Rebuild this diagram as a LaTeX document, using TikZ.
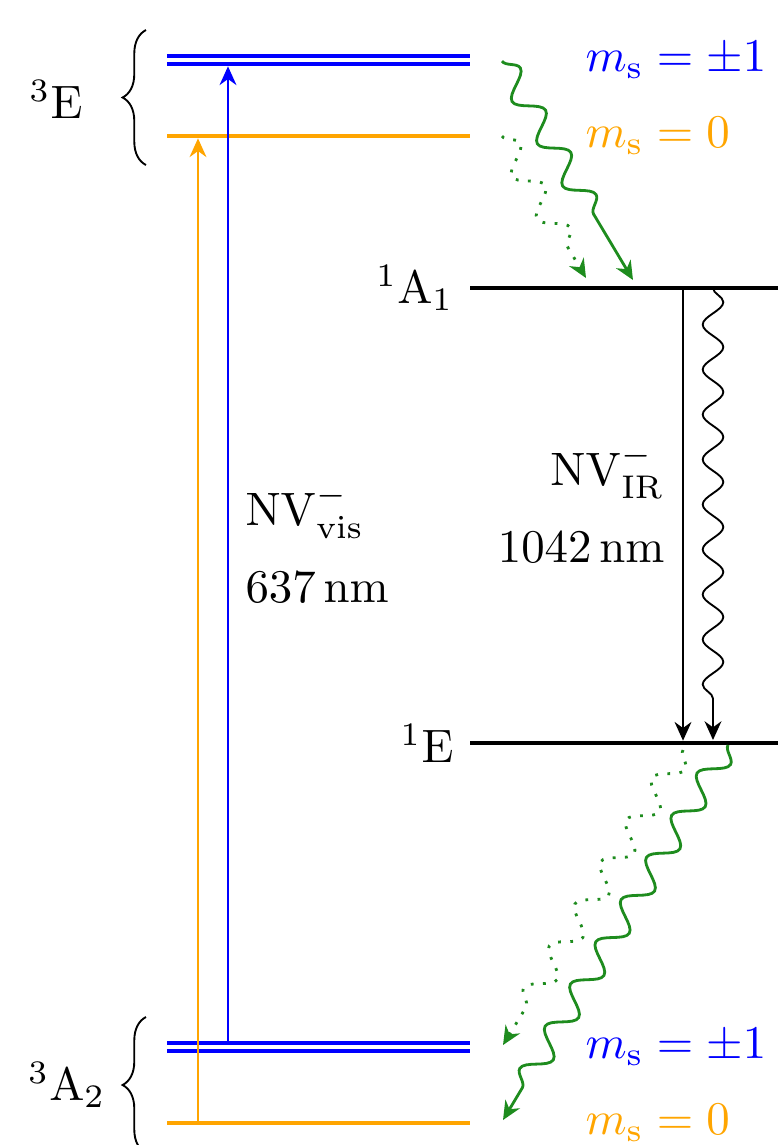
\documentclass[tikz,border=0pt]{standalone}
\usepackage{amsmath}
\usepackage{tikz}
\usetikzlibrary{arrows.meta, decorations.pathmorphing, decorations.pathreplacing}
\definecolor{msblue}{RGB}{0, 0, 255}
\definecolor{msorange}{RGB}{255, 165, 0}
\definecolor{decaygreen}{RGB}{30, 140, 30}

\tikzset{
  statelvl/.style={line width=1pt},
  dbllvl/.style={statelvl, double, double distance=0.7pt},
  optarrow/.style={-{Stealth[length=4pt, width=3.6pt]}},
  wavyarrow/.style={optarrow, decorate, decoration={snake, amplitude=2.6pt, segment length=10.5pt, post length=2.5mm}},
}

\begin{document}
\begin{tikzpicture}[scale=0.75]
\useasboundingbox (0,0) rectangle (7.78,-11.45);
\coordinate (Epm-l) at (1.67,-0.60);
\coordinate (Epm-r) at (4.70,-0.60);
\coordinate (E0-l) at (1.67,-1.36);
\coordinate (E0-r) at (4.70,-1.36);
\coordinate (A1-l) at (4.70,-2.88);
\coordinate (A1-r) at (7.78,-2.88);
\coordinate (sE-l) at (4.70,-7.43);
\coordinate (sE-r) at (7.78,-7.43);
\coordinate (Apm-l) at (1.67,-10.47);
\coordinate (Apm-r) at (4.70,-10.47);
\coordinate (A0-l) at (1.67,-11.23);
\coordinate (A0-r) at (4.70,-11.23);
\draw[dbllvl, msblue] (Epm-l) -- (Epm-r);
\draw[statelvl, msorange] (E0-l) -- (E0-r);
\draw[statelvl] (A1-l) -- (A1-r);
\draw[statelvl] (sE-l) -- (sE-r);
\draw[dbllvl, msblue] (Apm-l) -- (Apm-r);
\draw[statelvl, msorange] (A0-l) -- (A0-r);
\draw[decorate, decoration={brace, amplitude=5pt}] (1.46,-1.65) -- (1.46,-0.30);
\draw[decorate, decoration={brace, amplitude=5pt}] (1.46,-11.53) -- (1.46,-10.17);
\node[anchor=base east] (lE) at (0.99,-1.18) {${}^3\mathrm{E}$};
\node[anchor=base east] (lA2) at (1.22,-11.00) {${}^3\mathrm{A}_2$};
\node[left] (lA1) at (A1-l) {${}^1\mathrm{A}_1$};
\node[left] (l1E) at (sE-l) {${}^1\mathrm{E}$};
\node[right, msblue] (msE1) at (5.69,-0.60) {$m_\mathrm{s}=\pm1$};
\node[right, msorange] (msE0) at (5.69,-1.36) {$m_\mathrm{s}=0$};
\node[right, msblue] (msA1) at (5.69,-10.47) {$m_\mathrm{s}=\pm1$};
\node[right, msorange] (msA0) at (5.69,-11.23) {$m_\mathrm{s}=0$};
\coordinate (vis0) at (1.98,0);
\coordinate (vis1) at (2.28,0);
\draw[optarrow, msorange, shorten <=0.5pt, shorten >=0.5pt] (vis0 |- A0-l) -- (vis0 |- E0-l);
\draw[optarrow, msblue, shorten <=1.35pt, shorten >=1.35pt] (vis1 |- Apm-l) -- (vis1 |- Epm-l);
\node[anchor=base west] (nvvis) at (2.29,-5.25) {$\mathrm{NV}^-_{\mathrm{vis}}$};
\node[anchor=base west] (nmvis) at (2.29,-6.02) {$637\,\mathrm{nm}$};
\coordinate (ir0) at (6.83,0);
\coordinate (ir1) at (7.13,0);
\draw[optarrow, shorten >=0.5pt] (ir0 |- A1-l) -- (ir0 |- sE-l);
\draw[wavyarrow, decoration={segment length=9.6pt, amplitude=2.2pt, post length=1.5mm}] (ir1 |- A1-l) -- (7.13,-7.40);
\node[anchor=base east] (nvir) at (6.81,-4.85) {$\mathrm{NV}^-_{\mathrm{IR}}$};
\node[anchor=base east] (nmir) at (6.81,-5.62) {$1042\,\mathrm{nm}$};
\coordinate (g1a) at (5.02,-0.61);
\coordinate (g1b) at (6.33,-2.80);
\coordinate (g2a) at (5.02,-1.36);
\coordinate (g2b) at (5.86,-2.78);
\coordinate (g3a) at (7.28,-7.45);
\coordinate (g3b) at (5.03,-11.20);
\coordinate (g4a) at (6.83,-7.50);
\coordinate (g4b) at (5.03,-10.45);
\draw[wavyarrow, decaygreen, semithick, decoration={post length=4mm}] (g1a) -- (g1b);
\draw[wavyarrow, decaygreen, dotted, semithick, decoration={post length=2mm}] (g2a) -- (g2b);
\draw[wavyarrow, decaygreen, semithick] (g3a) -- (g3b);
\draw[wavyarrow, decaygreen, dotted, semithick, decoration={post length=2mm}] (g4a) -- (g4b);
\end{tikzpicture}
\end{document}
